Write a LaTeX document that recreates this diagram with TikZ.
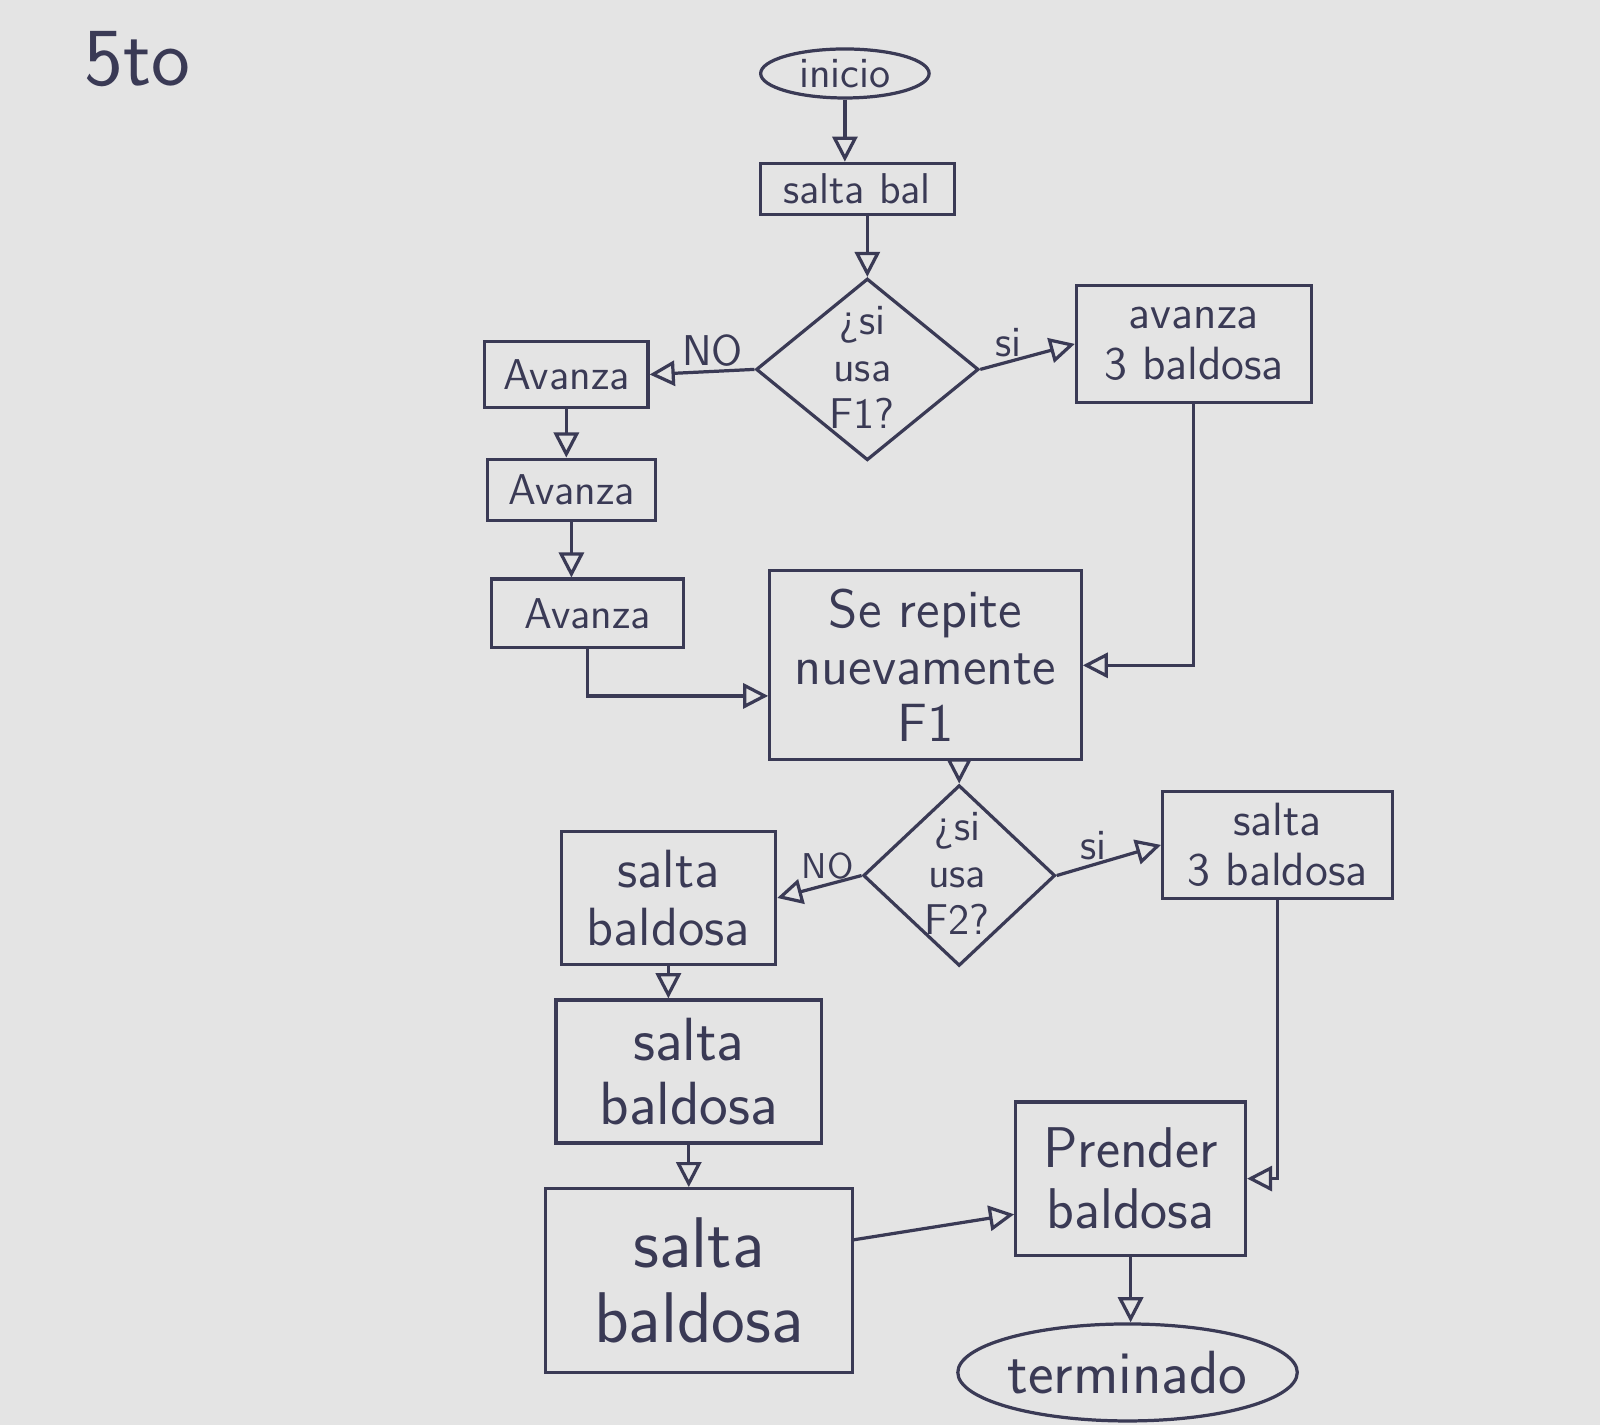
\documentclass[tikz,border=0pt]{standalone}
\usetikzlibrary{arrows.meta,shapes.geometric,calc}
\definecolor{paper}{HTML}{E4E4E4}
\definecolor{ink}{HTML}{3A3A55}
\newcommand{\fs}[2]{\sffamily\fontsize{#1}{#2}\selectfont}
\begin{document}
\begin{tikzpicture}[x=0.01cm,y=-0.01cm,
  every node/.style={text=ink,font=\fs{12}{14}},
  proc/.style={draw=ink,line width=0.9pt,rectangle,inner sep=2pt,align=center},
  term/.style={draw=ink,line width=0.9pt,ellipse,inner sep=0pt},
  dec/.style={draw=ink,line width=0.9pt,diamond,inner sep=0pt},
  lbl/.style={inner sep=1pt},
  flow/.style={draw=ink,line width=0.9pt,-{Triangle[open,length=7pt,width=7pt]}},
]
\useasboundingbox[fill=paper] (0,0) rectangle (1568,1396);

\node[lbl,font=\fs{23}{25}] (title) at (135,58) {5to};

% top
\node[term,minimum width=1.65cm,minimum height=0.48cm] (ini) at (828,72) {inicio};
\node[proc,minimum width=1.9cm,minimum height=0.5cm] (sb) at (840,185) {salta bal};
\node[dec,minimum width=2.18cm,minimum height=1.78cm] (d1) at (850,362) {};
\node[lbl,align=center,font=\fs{12}{13}] (d1t) at (845,360) {¿si\\usa\\F1?};
\node[proc,minimum width=2.3cm,minimum height=1.15cm,font=\fs{13}{14}] (av3b) at (1170,337) {avanza\\3 baldosa};

% left column 1
\node[proc,minimum width=1.6cm,minimum height=0.65cm] (a1) at (555,367) {Avanza};
\node[proc,minimum width=1.64cm,minimum height=0.6cm] (a2) at (560,480) {Avanza};
\node[proc,minimum width=1.88cm,minimum height=0.67cm] (a3) at (576,601) {Avanza};

% middle
\node[proc,minimum width=3.05cm,minimum height=1.85cm,font=\fs{15}{16}] (rep) at (907,652) {Se repite\\nuevamente\\F1};
\node[dec,minimum width=1.88cm,minimum height=1.77cm] (d2) at (940,858) {};
\node[lbl,align=center,font=\fs{12}{13}] (d2t) at (938,856) {¿si\\usa\\F2?};
\node[proc,minimum width=2.25cm,minimum height=1.05cm,font=\fs{13}{14}] (s3b) at (1252,828) {salta\\3 baldosa};

% left column 2
\node[proc,minimum width=2.1cm,minimum height=1.3cm,font=\fs{15}{16}] (sb1) at (655,880) {salta\\baldosa};
\node[proc,minimum width=2.6cm,minimum height=1.4cm,font=\fs{17}{18}] (sb2) at (675,1050) {salta\\baldosa};
\node[proc,minimum width=3.0cm,minimum height=1.8cm,font=\fs{20}{21}] (sb3) at (685,1255) {salta\\baldosa};

% bottom right
\node[proc,minimum width=2.25cm,minimum height=1.5cm,font=\fs{16}{17}] (pr) at (1108,1155) {Prender\\baldosa};
\node[term,minimum width=3.1cm,minimum height=0.95cm,font=\fs{17}{19}] (fin) at (1105,1345) {terminado};

% connectors
\draw[flow] (ini.south) -- (ini.south |- sb.north);
\draw[flow] (sb.south -| d1.north) -- (d1.north);
\draw[flow] (d1.east) -- node[lbl,above,pos=0.3] (lsi1) {si} (av3b.west);
\draw[flow] (d1.west) -- node[lbl,above,pos=0.4] (lno1) {NO} (a1.east);
\draw[flow] (a1.south) -- (a1.south |- a2.north);
\draw[flow] (a2.south) -- (a2.south |- a3.north);
\draw[flow] (a3.south) |- ($(rep.west)+(0,30)$);
\draw[flow] (av3b.south) |- (rep.east);
\draw[flow] (rep.south -| d2.north) -- (d2.north);
\draw[flow] (d2.east) -- node[lbl,above,pos=0.35] (lsi2) {si} (s3b.west);
\draw[flow] (d2.west) -- node[lbl,above,pos=0.4,font=\fs{10}{11}] (lno2) {NO} (sb1.east);
\draw[flow] (sb1.south) -- (sb1.south |- sb2.north);
\draw[flow] (sb2.south) -- (sb2.south |- sb3.north);
\draw[flow] ($(sb3.east)+(0,-40)$) -- ($(pr.west)+(0,35)$);
\draw[flow] (s3b.south) |- (pr.east);
\draw[flow] (pr.south) -- (pr.south |- fin.north);
\end{tikzpicture}
\end{document}
